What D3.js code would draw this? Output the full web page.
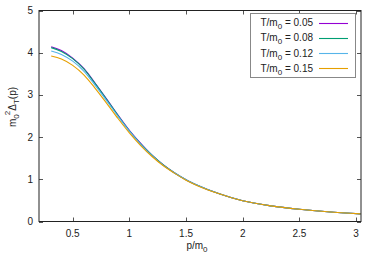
<!DOCTYPE html>
<html>
<head>
<meta charset="utf-8">
<script src="https://cdn.jsdelivr.net/npm/d3@7"></script>
<style>
body { margin: 0; background: #fff; }
text { font-family: "Liberation Sans", Arial, sans-serif; font-size: 10px; fill: #222; }
</style>
</head>
<body>
<div id="chart"></div>
<script>
const width = 380;
const height = 266;

// momentum grid p/m0
const pValues = [0.31, 0.4, 0.5, 0.6, 0.7, 0.8, 0.9, 1.0, 1.1, 1.2, 1.3, 1.4, 1.5, 1.6, 1.8, 2.0, 2.25, 2.5, 2.75, 3.04];

const temps = ["0.05", "0.08", "0.12", "0.15"];
const colors = ["#9400d3", "#009e73", "#56b4e9", "#e69f00"];

const delta005 = [4.14, 4.05, 3.87, 3.62, 3.27, 2.90, 2.52, 2.16, 1.85, 1.57, 1.34, 1.15, 0.99, 0.86, 0.65, 0.49, 0.37, 0.29, 0.23, 0.18];
const delta008 = [4.12, 4.03, 3.86, 3.61, 3.26, 2.89, 2.51, 2.15, 1.84, 1.57, 1.34, 1.15, 0.99, 0.86, 0.65, 0.49, 0.37, 0.29, 0.23, 0.18];
const delta012 = [4.04, 3.96, 3.80, 3.56, 3.22, 2.86, 2.49, 2.14, 1.83, 1.56, 1.33, 1.15, 0.99, 0.86, 0.65, 0.49, 0.37, 0.29, 0.23, 0.18];
const delta015 = [3.92, 3.85, 3.70, 3.47, 3.15, 2.80, 2.44, 2.10, 1.80, 1.54, 1.32, 1.14, 0.98, 0.85, 0.65, 0.49, 0.37, 0.29, 0.23, 0.18];
const series = [delta005, delta008, delta012, delta015];

const xTicks = [0.5, 1, 1.5, 2, 2.5, 3];
const yTicks = [0, 1, 2, 3, 4, 5];

const plotLeft = 39, plotRight = 361, plotTop = 10.5, plotBottom = 221.5;

const x = d3.scaleLinear().domain([0.2025, 3.044]).range([plotLeft, plotRight]);
const y = d3.scaleLinear().domain([0, 5]).range([plotBottom, plotTop]);

const svg = d3.select("#chart")
    .append("svg")
    .attr("width", width)
    .attr("height", height);

// ticks (inward, mirrored)
const tickLen = 4;
xTicks.forEach(t => {
    const px = Math.round(x(t)) + 0.5;
    svg.append("line").attr("x1", px).attr("x2", px).attr("y1", plotBottom).attr("y2", plotBottom - tickLen)
        .attr("stroke", "#555");
    svg.append("line").attr("x1", px).attr("x2", px).attr("y1", plotTop).attr("y2", plotTop + tickLen)
        .attr("stroke", "#555");
    svg.append("text").attr("x", x(t)).attr("y", 237).attr("text-anchor", "middle").text(t);
});
yTicks.forEach(t => {
    const py = Math.round(y(t)) + 0.5;
    svg.append("line").attr("x1", plotLeft).attr("x2", plotLeft + tickLen).attr("y1", py).attr("y2", py)
        .attr("stroke", "#555");
    svg.append("line").attr("x1", plotRight).attr("x2", plotRight - tickLen).attr("y1", py).attr("y2", py)
        .attr("stroke", "#555");
    svg.append("text").attr("x", 33).attr("y", y(t) + 3.5).attr("text-anchor", "end").text(t);
});

// curves
const line = d3.line()
    .x((d, i) => x(pValues[i]))
    .y(d => y(d))
    .curve(d3.curveMonotoneX);

series.forEach((s, i) => {
    svg.append("path")
        .attr("d", line(s))
        .attr("fill", "none")
        .attr("stroke", colors[i])
        .attr("stroke-width", 1.1);
});

// border
svg.append("rect")
    .attr("x", plotLeft).attr("y", plotTop)
    .attr("width", plotRight - plotLeft).attr("height", plotBottom - plotTop)
    .attr("fill", "none")
    .attr("stroke", "#222")
    .attr("stroke-width", 1);

// legend
svg.append("rect")
    .attr("x", 250.5).attr("y", 13.5)
    .attr("width", 105).attr("height", 64)
    .attr("fill", "#fff")
    .attr("stroke", "#888");

temps.forEach((t, i) => {
    const ly = 22.5 + i * 15.3;
    const txt = svg.append("text").attr("x", 313).attr("y", ly + 3.5).attr("text-anchor", "end");
    txt.append("tspan").text("T/m");
    txt.append("tspan").attr("dy", 3).attr("font-size", 8).text("0");
    txt.append("tspan").attr("dy", -3).text(" = " + t);
    svg.append("line")
        .attr("x1", 319).attr("x2", 348)
        .attr("y1", Math.round(ly) + 0.5).attr("y2", Math.round(ly) + 0.5)
        .attr("stroke", colors[i])
        .attr("stroke-width", 1.1);
});

// axis labels
const xl = svg.append("text").attr("x", 197).attr("y", 249).attr("text-anchor", "middle");
xl.append("tspan").text("p/m");
xl.append("tspan").attr("dy", 3).attr("font-size", 8).text("0");

const yl = svg.append("text")
    .attr("transform", "translate(16,107) rotate(-90)")
    .attr("text-anchor", "middle");
yl.append("tspan").text("m");
yl.append("tspan").attr("dy", 3).attr("font-size", 8).text("0");
yl.append("tspan").attr("dy", -9).attr("dx", -1).attr("font-size", 8).text("2");
yl.append("tspan").attr("dy", 6).text("Δ");
yl.append("tspan").attr("dy", 3).attr("font-size", 8).text("T");
yl.append("tspan").attr("dy", -3).text("(p)");
</script>
</body>
</html>
